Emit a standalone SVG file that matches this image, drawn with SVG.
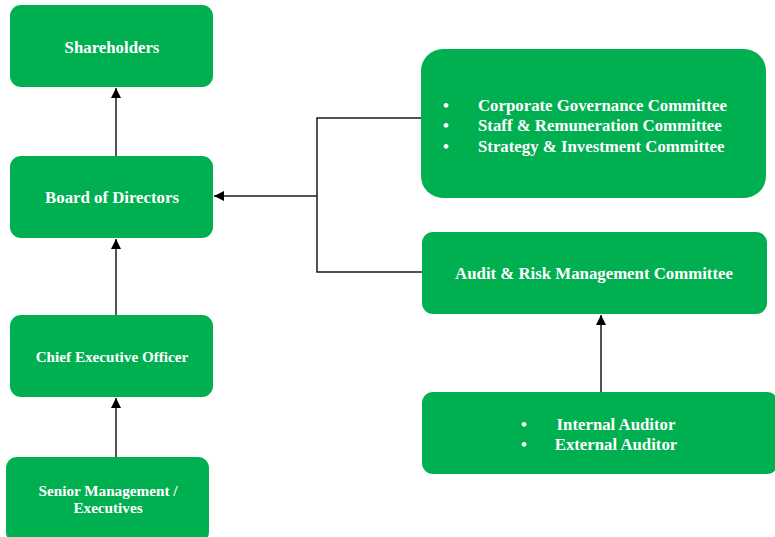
<svg xmlns="http://www.w3.org/2000/svg" width="775" height="537" viewBox="0 0 775 537">
  <style>
    .box { fill: #00b050; }
    .lbl { fill: #ffffff; font-family: "Liberation Serif", "Times New Roman", serif; font-weight: bold; font-size: 16.8px; }
    .sm { font-size: 15.2px; }
    .mid { text-anchor: middle; }
    .wire { fill: none; stroke: #1a1a1a; stroke-width: 1.5; }
  </style>
  <defs>
    <marker id="arrow" viewBox="0 0 10 10" refX="10" refY="5" markerWidth="10" markerHeight="10" markerUnits="userSpaceOnUse" orient="auto">
      <path d="M0,0 L10,5 L0,10 Z" fill="#000"/>
    </marker>
  </defs>
  <rect width="775" height="537" fill="#ffffff"/>

  <g id="connectors">
    <line class="wire" x1="116" y1="156" x2="116" y2="88" marker-end="url(#arrow)"/>
    <line class="wire" x1="116" y1="315" x2="116" y2="239" marker-end="url(#arrow)"/>
    <line class="wire" x1="116" y1="457" x2="116" y2="398" marker-end="url(#arrow)"/>
    <polyline class="wire" points="421,118 317,118 317,272 422,272"/>
    <line class="wire" x1="317" y1="196" x2="214" y2="196" marker-end="url(#arrow)"/>
    <line class="wire" x1="601" y1="392" x2="601" y2="315" marker-end="url(#arrow)"/>
  </g>

  <g id="shareholders">
    <rect class="box" x="10" y="5" width="203" height="82" rx="11"/>
    <text class="lbl mid" x="112" y="53">Shareholders</text>
  </g>
  <g id="board">
    <rect class="box" x="10" y="156" width="203" height="82" rx="11"/>
    <text class="lbl mid" x="112" y="203">Board of Directors</text>
  </g>
  <g id="ceo">
    <rect class="box" x="10" y="315" width="203" height="82" rx="11"/>
    <text class="lbl sm mid" x="112" y="362">Chief Executive Officer</text>
  </g>
  <g id="senior">
    <rect class="box" x="6" y="457" width="203" height="86" rx="11"/>
    <text class="lbl sm mid" x="108" y="496">Senior Management /</text>
    <text class="lbl sm mid" x="108" y="513">Executives</text>
  </g>
  <g id="committees">
    <rect class="box" x="421" y="49" width="345" height="149" rx="22"/>
    <text class="lbl" x="443" y="111">•</text>
    <text class="lbl" x="478" y="111">Corporate Governance Committee</text>
    <text class="lbl" x="443" y="131">•</text>
    <text class="lbl" x="478" y="131">Staff &amp; Remuneration Committee</text>
    <text class="lbl" x="443" y="152">•</text>
    <text class="lbl" x="478" y="152">Strategy &amp; Investment Committee</text>
  </g>
  <g id="audit-committee">
    <rect class="box" x="422" y="232" width="345" height="82" rx="11"/>
    <text class="lbl mid" x="594" y="279">Audit &amp; Risk Management Committee</text>
  </g>
  <g id="auditors">
    <rect class="box" x="422" y="392" width="356" height="82" rx="11"/>
    <text class="lbl" x="521" y="430">•</text>
    <text class="lbl mid" x="616" y="430">Internal Auditor</text>
    <text class="lbl" x="521" y="450">•</text>
    <text class="lbl mid" x="616" y="450">External Auditor</text>
  </g>
</svg>
